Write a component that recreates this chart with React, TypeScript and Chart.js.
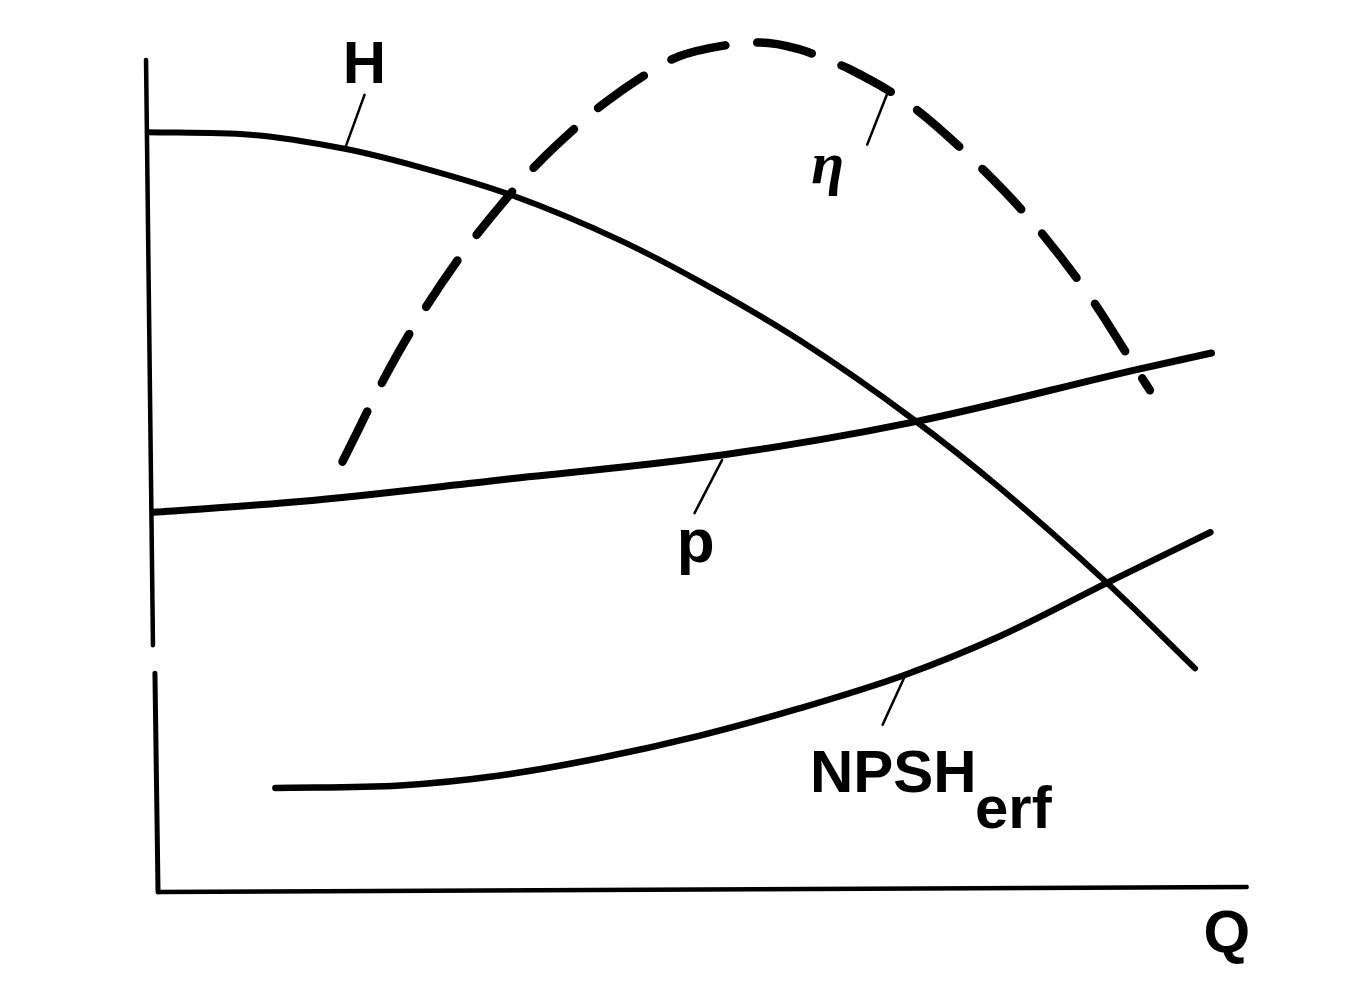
import React, { useEffect, useRef } from "react";
import { Chart, registerables } from "chart.js";

Chart.register(...registerables);

// Flow rate Q (relative units, 0..100) and curve values (relative units, 0..100)
const Q_H = [-0.2, 9.1, 17.7, 24.5, 32.9, 42.7, 50.0, 59.1, 69.5, 77.3, 87.0, 95.0];
const H_VALUES = [91.3, 91.0, 89.3, 87.1, 83.7, 78.3, 73.3, 66.2, 56.6, 48.4, 37.0, 26.7];

const Q_P = [0.3, 13.6, 31.8, 52.0, 69.5, 89.7, 96.5];
const P_VALUES = [45.5, 46.8, 49.4, 52.4, 56.4, 62.7, 64.7];

const Q_NPSH = [11.4, 22.7, 31.8, 40.9, 50.0, 59.1, 68.6, 77.3, 87.0, 96.4];
const NPSH_VALUES = [12.3, 12.6, 13.8, 15.9, 18.6, 21.9, 25.9, 30.6, 37.0, 43.1];

const Q_ETA = [17.5, 21.2, 23.8, 28.2, 32.9, 35.3, 39.5, 41.4, 46.5, 48.0, 52.0, 55.5, 59.0, 62.0, 63.6, 69.1, 74.8, 80.2, 85.5, 89.7, 90.9];
const ETA_VALUES = [51.6, 61.4, 67.5, 76.3, 84.1, 87.6, 92.8, 94.9, 99.4, 100.4, 101.7, 102.1, 101.3, 99.8, 98.9, 94.6, 88.0, 80.5, 71.4, 62.7, 60.2];

// Axis lines (the vertical axis is drawn broken, as in the source figure)
const AXIS_Y_UPPER_Q = [-0.36, 0.27];
const AXIS_Y_UPPER_V = [100.0, 29.5];
const AXIS_Y_LOWER_Q = [0.45, 0.73];
const AXIS_Y_LOWER_V = [26.1, -0.24];
const AXIS_X_Q = [0.73, 99.7];
const AXIS_X_V = [-0.24, 0.36];

// Leader lines from labels to curves
const LEADER_H_Q = [19.5, 17.8];
const LEADER_H_V = [95.8, 89.6];
const LEADER_ETA_Q = [67.1, 65.2];
const LEADER_ETA_V = [96.2, 89.8];
const LEADER_P_Q = [52.0, 49.5];
const LEADER_P_V = [51.8, 45.4];
const LEADER_NPSH_Q = [68.6, 66.6];
const LEADER_NPSH_V = [25.7, 19.9];

// Labels: text, position (Q, value)
const LABEL_TEXTS = ["H", "η", "p", "NPSH", "erf", "Q"];
const LABEL_Q = [19.5, 61.6, 49.6, 60.0, 75.0, 97.9];
const LABEL_V = [97.2, 85.2, 39.5, 11.8, 7.5, -7.5];

const zip = (xs: number[], ys: number[]) => xs.map((x, i) => ({ x, y: ys[i] }));

export default function App() {
  const canvasRef = useRef<HTMLCanvasElement | null>(null);

  useEffect(() => {
    document.body.style.margin = "0";
    const canvas = canvasRef.current;
    if (!canvas) return;

    const labelFonts = [
      "bold 60px 'Liberation Sans', Arial, sans-serif",
      "italic bold 60px 'Liberation Serif', 'DejaVu Serif', serif",
      "bold 62px 'Liberation Sans', Arial, sans-serif",
      "bold 60px 'Liberation Sans', Arial, sans-serif",
      "bold 60px 'Liberation Sans', Arial, sans-serif",
      "bold 60px 'Liberation Sans', Arial, sans-serif",
    ];
    const labelAlign: CanvasTextAlign[] = ["center", "center", "center", "left", "left", "center"];

    const labelPlugin = {
      id: "curveLabels",
      afterDatasetsDraw(chart: any) {
        const ctx = chart.ctx as CanvasRenderingContext2D;
        const xs = chart.scales.x;
        const ys = chart.scales.y;
        ctx.save();
        ctx.fillStyle = "#000";
        ctx.textBaseline = "alphabetic";
        LABEL_TEXTS.forEach((t, i) => {
          ctx.font = labelFonts[i];
          ctx.textAlign = labelAlign[i];
          ctx.fillText(t, xs.getPixelForValue(LABEL_Q[i]), ys.getPixelForValue(LABEL_V[i]));
        });
        ctx.restore();
      },
    };

    const solid = (data: { x: number; y: number }[], width: number, smooth: boolean) => ({
      data,
      borderColor: "#000",
      borderWidth: width,
      pointRadius: 0,
      tension: smooth ? 0.4 : 0,
      cubicInterpolationMode: smooth ? ("monotone" as const) : ("default" as const),
      borderCapStyle: "round" as const,
      borderJoinStyle: "round" as const,
      fill: false,
      clip: false as any,
    });

    const chart = new Chart(canvas, {
      type: "line",
      data: {
        datasets: [
          solid(zip(AXIS_Y_UPPER_Q, AXIS_Y_UPPER_V), 4.5, false),
          solid(zip(AXIS_Y_LOWER_Q, AXIS_Y_LOWER_V), 5, false),
          solid(zip(AXIS_X_Q, AXIS_X_V), 4.5, false),
          { label: "H", ...solid(zip(Q_H, H_VALUES), 6, true) },
          { label: "p", ...solid(zip(Q_P, P_VALUES), 7, true) },
          { label: "NPSH erf", ...solid(zip(Q_NPSH, NPSH_VALUES), 6.5, true) },
          {
            label: "η",
            ...solid(zip(Q_ETA, ETA_VALUES), 8.5, true),
            borderDash: [56, 32],
          },
          solid(zip(LEADER_H_Q, LEADER_H_V), 2.5, false),
          solid(zip(LEADER_ETA_Q, LEADER_ETA_V), 2.5, false),
          solid(zip(LEADER_P_Q, LEADER_P_V), 2.5, false),
          solid(zip(LEADER_NPSH_Q, LEADER_NPSH_V), 2.5, false),
        ],
      },
      options: {
        responsive: false,
        animation: false,
        events: [],
        layout: { padding: { left: 95, right: 43, top: 18.5, bottom: 53.5 } },
        scales: {
          x: { type: "linear", min: -5, max: 105, display: false },
          y: { type: "linear", min: -5, max: 105, display: false },
        },
        plugins: {
          legend: { display: false },
          tooltip: { enabled: false },
        },
      },
      plugins: [labelPlugin],
    });

    return () => chart.destroy();
  }, []);

  return (
    <div style={{ width: 1348, height: 985, background: "#fff" }}>
      <canvas ref={canvasRef} width={1348} height={985} style={{ display: "block" }} />
    </div>
  );
}
